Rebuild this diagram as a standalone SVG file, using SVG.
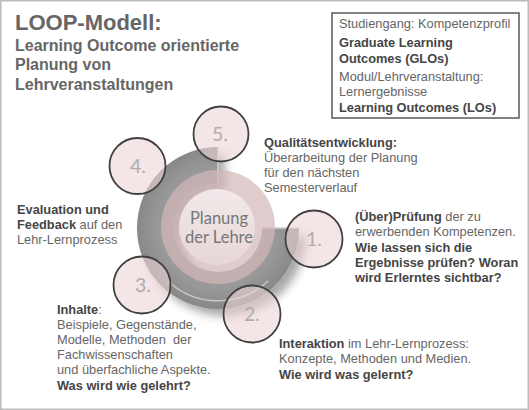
<svg xmlns="http://www.w3.org/2000/svg" width="529" height="410" viewBox="0 0 529 410">
<defs>
<style>
.t{font-family:"Liberation Sans",Arial,sans-serif;font-size:12.8px;fill:#666}
.b{font-weight:bold;fill:#454545}
.ttl{font-family:"Liberation Sans",Arial,sans-serif;font-weight:bold;fill:#666}
.num{font-family:Lato,"Open Sans",sans-serif;font-size:19.5px;fill:#adadad;text-anchor:middle}
.ctr{font-family:Lato,"Open Sans",sans-serif;font-size:16.5px;fill:#777;text-anchor:middle}
.step{fill:#ecd3d5;fill-opacity:0.6;stroke:#404040;stroke-width:1.8}
</style>
<radialGradient id="ringG" gradientUnits="userSpaceOnUse" cx="218" cy="228" r="81">
<stop offset="0.54" stop-color="#a2a2a2"/>
<stop offset="0.8" stop-color="#959595"/>
<stop offset="1" stop-color="#888"/>
</radialGradient>
<linearGradient id="innerG" x1="0" y1="0" x2="0" y2="1">
<stop offset="0" stop-color="#f3e9ea"/>
<stop offset="1" stop-color="#e6d6d7"/>
</linearGradient>
<filter id="sh" x="-20%" y="-20%" width="150%" height="150%">
<feGaussianBlur in="SourceAlpha" stdDeviation="5"/>
<feOffset dx="7" dy="7"/>
<feComponentTransfer><feFuncA type="linear" slope="0.35"/></feComponentTransfer>
<feMerge><feMergeNode/><feMergeNode in="SourceGraphic"/></feMerge>
</filter>
</defs>

<rect x="0.75" y="0.75" width="527.5" height="408.5" fill="#fff" stroke="#bcbcbc" stroke-width="1.5"/>

<g id="title">
<text class="ttl" x="15" y="30" font-size="22">LOOP-Modell:</text>
<text class="ttl" font-size="16"><tspan x="15" y="50.5">Learning Outcome orientierte</tspan><tspan x="15" y="70">Planung von</tspan><tspan x="15" y="89.5">Lehrveranstaltungen</tspan></text>
</g>

<g id="legend">
<rect x="332" y="13" width="187" height="105" fill="#fff" stroke="#5a5a5a" stroke-width="1.5"/>
<text class="t"><tspan x="339" y="28">Studiengang: Kompetenzprofil</tspan><tspan x="339" y="46.5" class="b">Graduate Learning</tspan><tspan x="339" y="62.5" class="b">Outcomes (GLOs)</tspan><tspan x="339" y="80.5">Modul/Lehrveranstaltung:</tspan><tspan x="339" y="95.5">Lernergebnisse</tspan><tspan x="339" y="111.5" class="b">Learning Outcomes (LOs)</tspan></text>
</g>

<g id="center">
<g filter="url(#sh)">
<path d="M218,147 A81,81 0 1 0 299,228 L262,228 A44,44 0 1 1 218,184 Z" fill="url(#ringG)"/>
</g>
<path d="M168,281 A73,73 0 0 0 268,281" fill="none" stroke="#fff" stroke-opacity="0.5" stroke-width="1.5"/>
<path d="M218,147 L218,184 M262,228 L299,228" fill="none" stroke="#d9d0d0" stroke-width="1.5"/>
<circle cx="218" cy="227" r="57" fill="#d3b6b8" fill-opacity="0.7"/>
<circle cx="217" cy="227" r="38" fill="url(#innerG)"/>
<text class="ctr"><tspan x="219" y="224">Planung</tspan><tspan x="219" y="243">der Lehre</tspan></text>
</g>

<g id="step1"><circle class="step" cx="314" cy="239" r="28.5"/><text class="num" x="314" y="246">1.</text></g>
<g id="step2"><circle class="step" cx="252" cy="314" r="28.5"/><text class="num" x="252" y="321">2.</text></g>
<g id="step3"><circle class="step" cx="142" cy="285" r="28.5"/><text class="num" x="143" y="292">3.</text></g>
<g id="step4"><circle class="step" cx="137.5" cy="166" r="28"/><text class="num" x="138" y="173">4.</text></g>
<g id="step5"><circle class="step" cx="221" cy="134" r="27.5"/><text class="num" x="220" y="141">5.</text></g>

<g id="connectors"/>

<g id="text5">
<text class="t"><tspan x="264" y="147" class="b">Qualitätsentwicklung:</tspan><tspan x="264" y="162">Überarbeitung der Planung</tspan><tspan x="264" y="177">für den nächsten</tspan><tspan x="264" y="191.5">Semesterverlauf</tspan></text>
</g>

<g id="text1">
<text class="t"><tspan x="355" y="221"><tspan class="b">(Über)Prüfung</tspan> der zu</tspan><tspan x="355" y="236">erwerbenden Kompetenzen.</tspan><tspan x="355" y="251.5" class="b">Wie lassen sich die</tspan><tspan x="355" y="267" class="b">Ergebnisse prüfen? Woran</tspan><tspan x="355" y="282" class="b">wird Erlerntes sichtbar?</tspan></text>
</g>

<g id="text4">
<text class="t"><tspan x="17" y="213.5" class="b">Evaluation und</tspan><tspan x="17" y="228.5"><tspan class="b">Feedback</tspan> auf den</tspan><tspan x="17" y="243.5">Lehr-Lernprozess</tspan></text>
</g>

<g id="text3">
<text class="t"><tspan x="57" y="314"><tspan class="b">Inhalte</tspan>:</tspan><tspan x="57" y="329">Beispiele, Gegenstände,</tspan><tspan x="57" y="344">Modelle, Methoden&#160; der</tspan><tspan x="57" y="359">Fachwissenschaften</tspan><tspan x="57" y="374">und überfachliche Aspekte.</tspan><tspan x="57" y="389.5" class="b">Was wird wie gelehrt?</tspan></text>
</g>

<g id="text2">
<text class="t"><tspan x="279" y="348"><tspan class="b">Interaktion</tspan> im Lehr-Lernprozess:</tspan><tspan x="279" y="363">Konzepte, Methoden und Medien.</tspan><tspan x="279" y="378.5" class="b">Wie wird was gelernt?</tspan></text>
</g>
</svg>
